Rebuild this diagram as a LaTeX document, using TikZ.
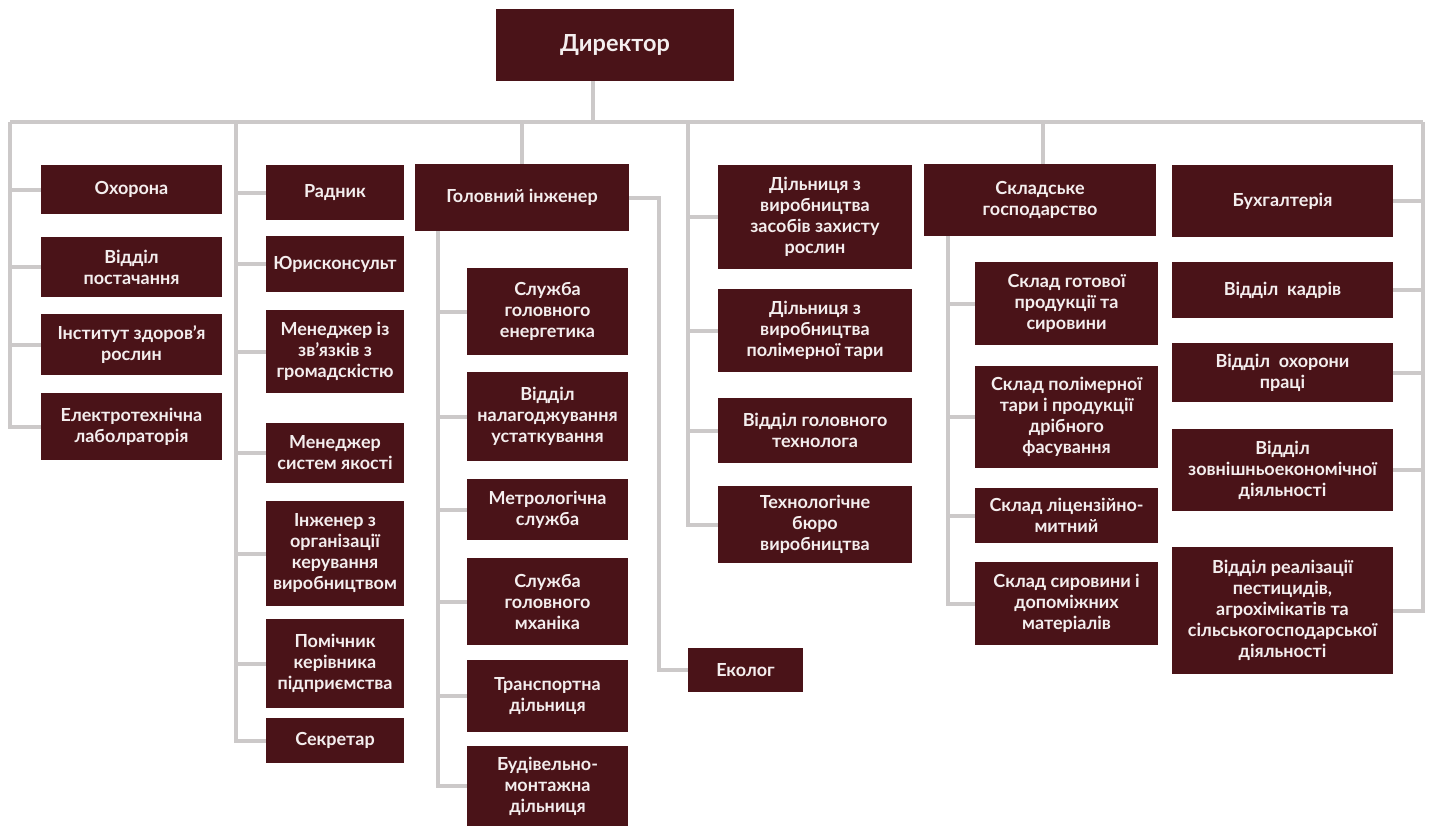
\documentclass[tikz,border=0pt]{standalone}
\usepackage{fontspec}
\setmainfont{Lato}
\definecolor{boxfill}{HTML}{4A1318}
\definecolor{linegray}{HTML}{CCC9C9}
\definecolor{txt}{HTML}{F4EEEE}
\newcommand\bx[6]{\node[box,minimum width={#4-#2},minimum height={#5-#3}] (#1) at ({(#2+#4)/2},{(#3+#5)/2}) {#6};}
\begin{document}
\begin{tikzpicture}[x=1pt,y=-1pt,
  box/.style={fill=boxfill,draw=none,inner sep=0pt,align=center,text=txt,
    font=\bfseries\fontsize{18}{21}\selectfont},
  conn/.style={draw=linegray,line width=4pt}]
\useasboundingbox (0,0) rectangle (1434,827);
\bx{dir}{496}{9}{734}{81}{\fontsize{23.5}{26}\selectfont Директор}
% column 1
\bx{c1a}{41}{165}{222}{214}{Охорона}
\bx{c1b}{41}{237}{222}{297}{Відділ\\постачання}
\bx{c1c}{41}{314}{222}{375}{Інститут здоров’я\\рослин}
\bx{c1d}{41}{393}{222}{460}{Електротехнічна\\лаболраторія}
% column 2
\bx{c2a}{266}{165}{404}{220}{Радник}
\bx{c2b}{266}{236}{404}{292}{Юрисконсульт}
\bx{c2c}{266}{310}{404}{393}{Менеджер із\\зв’язків з\\громадскістю}
\bx{c2d}{266}{423}{404}{483}{Менеджер\\систем якості}
\bx{c2e}{266}{501}{404}{606}{Інженер з\\організації\\керування\\виробництвом}
\bx{c2f}{266}{619}{404}{708}{Помічник\\керівника\\підприємства}
\bx{c2g}{266}{718}{404}{763}{Секретар}
% column 3
\bx{gi}{415}{164}{629}{231}{Головний інженер}
\bx{c3a}{467}{268}{628}{355}{Служба\\головного\\енергетика}
\bx{c3b}{467}{372}{628}{461}{Відділ\\налагоджування\\устаткування}
\bx{c3c}{467}{479}{628}{540}{Метрологічна\\служба}
\bx{c3d}{467}{558}{628}{645}{Служба\\головного\\мханіка}
\bx{c3e}{467}{660}{628}{732}{Транспортна\\дільниця}
\bx{c3f}{467}{746}{628}{826}{Будівельно-\\монтажна\\дільниця}
\bx{eco}{688}{648}{803}{692}{Еколог}
% column 4
\bx{c4a}{718}{165}{912}{269}{Дільниця з\\виробництва\\засобів захисту\\рослин}
\bx{c4b}{718}{289}{912}{372}{Дільниця з\\виробництва\\полімерної тари}
\bx{c4c}{718}{398}{912}{463}{Відділ головного\\технолога}
\bx{c4d}{718}{486}{912}{563}{Технологічне\\бюро\\виробництва}
% column 5
\bx{sk}{924}{164}{1156}{236}{Складське\\господарство}
\bx{c5a}{975}{262}{1158}{345}{Склад готової\\продукції та\\сировини}
\bx{c5b}{975}{366}{1158}{468}{Склад полімерної\\тари і продукції\\дрібного\\фасування}
\bx{c5c}{975}{488}{1158}{543}{Склад ліцензійно-\\митний}
\bx{c5d}{975}{562}{1158}{645}{Склад сировини і\\допоміжних\\матеріалів}
% column 6
\bx{c6a}{1172}{165}{1393}{237}{Бухгалтерія}
\bx{c6b}{1172}{262}{1393}{318}{Відділ~ кадрів}
\bx{c6c}{1172}{343}{1393}{402}{Відділ~ охорони\\праці}
\bx{c6d}{1172}{429}{1393}{511}{Відділ\\зовнішньоекономічної\\діяльності}
\bx{c6e}{1172}{547}{1393}{674}{Відділ реалізації\\пестицидів,\\агрохімікатів та\\сільськогосподарської\\діяльності}
% bus coordinates
\coordinate (bL) at (10,122);
\coordinate (bR) at (1423,122);
\coordinate (b2) at (236,122);
\coordinate (b4) at (688,122);
\coordinate (dirb) at (593,81);
\coordinate (gib) at (438,231);
\coordinate (ecoc) at (659,197.5);
\coordinate (skb) at (948,236);
% connectors
\draw[conn] (bL) -- (bR);
\draw[conn] (dirb) -- (dirb |- bL);
\foreach \n in {c1a,c1b,c1c,c1d} \draw[conn] (bL) |- (\n.west);
\foreach \n in {c2a,c2b,c2c,c2d,c2e,c2f,c2g} \draw[conn] (b2) |- (\n.west);
\draw[conn] (gi.north |- bL) -- (gi.north);
\foreach \n in {c3a,c3b,c3c,c3d,c3e,c3f} \draw[conn] (gib) |- (\n.west);
\draw[conn] (gi.east) -- (ecoc) |- (eco.west);
\foreach \n in {c4a,c4b,c4c,c4d} \draw[conn] (b4) |- (\n.west);
\draw[conn] ([xshift=3pt]sk.north |- bL) -- ([xshift=3pt]sk.north);
\foreach \n in {c5a,c5b,c5c,c5d} \draw[conn] (skb) |- (\n.west);
\foreach \n in {c6a,c6b,c6c,c6d,c6e} \draw[conn] (bR) |- (\n.east);
\end{tikzpicture}
\end{document}
